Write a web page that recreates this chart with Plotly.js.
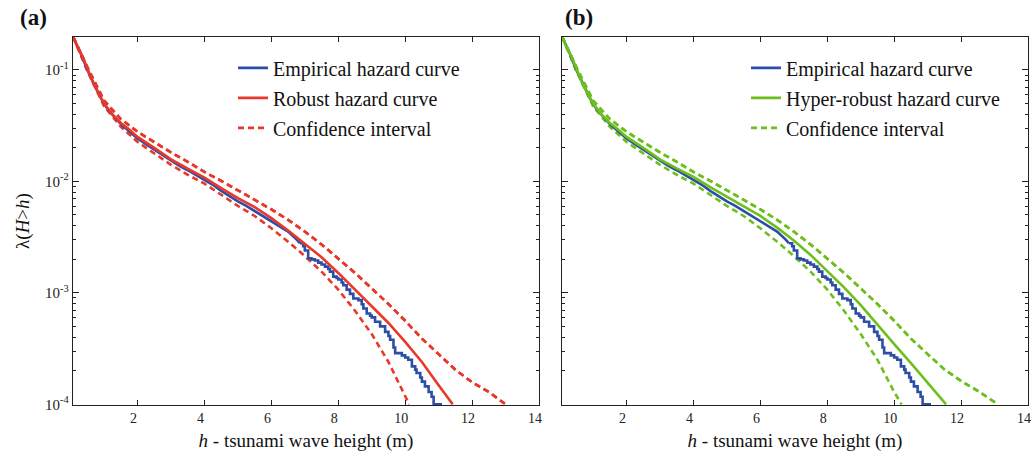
<!DOCTYPE html>
<html>
<head>
<meta charset="utf-8">
<script src="https://cdn.plot.ly/plotly-3.0.1.min.js"></script>
<style>html,body{margin:0;padding:0;background:#fff;}#chart{width:1033px;height:461px;}</style>
</head>
<body>
<div id="chart"></div>
<script>
// ---------- data ----------
// Empirical hazard curve (smooth upper part)
const empH = [0.08,0.3,0.5,0.7,0.9,1.1,1.3,1.5,1.75,2.0,2.25,2.5,2.75,3.0,3.25,3.5,3.75,4.0,4.25,4.5,4.75,5.0,5.25,5.5,5.75,6.0,6.25,6.5,6.75,6.85];
const empL = [0.197,0.141,0.100,0.0741,0.0562,0.0447,0.0380,0.0327,0.0282,0.0243,0.0216,0.0193,0.0172,0.0153,0.0138,0.0126,0.01135,0.01023,0.00933,0.00822,0.00733,0.00661,0.00603,0.00543,0.00490,0.00442,0.00398,0.00355,0.00302,0.00279];
// Empirical hazard curve (stepped tail)
const empTailH = [6.85,6.95,7.0,7.1,7.2,7.3,7.4,7.5,7.6,7.7,7.75,7.85,7.95,8.0,8.1,8.15,8.25,8.35,8.45,8.6,8.7,8.75,8.85,8.95,9.0,9.1,9.25,9.4,9.5,9.55,9.65,9.7,9.9,10.0,10.09,10.2,10.3,10.34,10.45,10.5,10.59,10.7,10.79,10.85,11.1];
const empTailL = [0.00279,0.00262,0.00240,0.00204,0.00200,0.00195,0.00187,0.00180,0.00172,0.00164,0.00155,0.00140,0.00136,0.00132,0.00124,0.00117,0.00107,0.00098,0.000891,0.000861,0.000790,0.000724,0.000653,0.000625,0.000603,0.000550,0.000501,0.000447,0.000410,0.000380,0.000324,0.000288,0.000275,0.000263,0.000251,0.000219,0.000205,0.000191,0.000174,0.000160,0.000145,0.000129,0.000117,0.0001,0.0001];

// Robust hazard curve (a)
const robH = [0.08,0.2,0.36,0.51,0.66,0.81,1.0,1.25,1.5,1.75,2.0,2.5,3.0,3.5,4.0,4.5,5.0,5.5,6.0,6.5,7.0,7.5,8.0,8.5,9.0,9.5,10.0,10.5,11.0,11.42];
const robL = [0.197,0.161,0.131,0.100,0.078,0.0635,0.0501,0.0398,0.0335,0.0292,0.0251,0.0200,0.0158,0.0130,0.01084,0.00871,0.00708,0.00589,0.00468,0.00363,0.00275,0.00209,0.00151,0.00107,0.000759,0.000537,0.000363,0.000240,0.000148,0.0001];
// Confidence interval (a)
const ciUpH = [0.08,0.5,1.0,1.5,2.0,2.5,3.0,3.5,4.0,4.5,5.0,5.5,6.0,6.5,7.0,7.5,8.0,8.5,9.0,9.5,10.0,10.5,11.0,11.5,12.0,12.5,13.0];
const ciUpL = [0.197,0.106,0.0531,0.0363,0.0279,0.0224,0.0182,0.0150,0.01216,0.01012,0.00832,0.00692,0.00562,0.00452,0.00355,0.00272,0.00204,0.00151,0.001096,0.000794,0.000562,0.000389,0.000282,0.000204,0.000158,0.000129,0.0001];
const ciLoH = [0.08,0.5,1.0,1.5,2.0,2.5,3.0,3.5,4.0,4.5,5.0,5.5,6.0,6.5,7.0,7.5,8.0,8.5,9.0,9.5,10.0,10.12];
const ciLoL = [0.197,0.0977,0.0473,0.0309,0.0226,0.0178,0.0141,0.01148,0.00955,0.00759,0.00603,0.00490,0.00380,0.00288,0.00214,0.00155,0.00107,0.000692,0.000427,0.000240,0.000120,0.0001];

// Hyper-robust hazard curve (b)
const hypH = [0.08,0.2,0.36,0.51,0.66,0.81,1.0,1.25,1.5,1.75,2.0,2.5,3.0,3.5,4.0,4.5,5.0,5.5,6.0,6.5,7.0,7.5,8.0,8.5,9.0,9.5,10.0,10.5,11.0,11.55];
const hypL = [0.197,0.161,0.131,0.100,0.078,0.0635,0.0501,0.0398,0.0335,0.0292,0.0251,0.0200,0.0158,0.0131,0.0110,0.00891,0.00733,0.00603,0.00490,0.00385,0.00295,0.00219,0.00158,0.00112,0.000776,0.000525,0.000347,0.000234,0.000155,0.0001];
// Confidence interval (b)
const ciUpH2 = [0.08,0.5,1.0,1.5,2.0,2.5,3.0,3.5,4.0,4.5,5.0,5.5,6.0,6.5,7.0,7.5,8.0,8.5,9.0,9.5,10.0,10.5,11.0,11.5,12.0,12.5,13.1];
const ciUpL2 = [0.197,0.106,0.0531,0.0363,0.0279,0.0224,0.0182,0.0150,0.01216,0.01012,0.00832,0.00692,0.00562,0.00452,0.00355,0.00272,0.00204,0.00151,0.001096,0.000794,0.000562,0.000389,0.000282,0.000206,0.000162,0.000132,0.0001];
const ciLoH2 = [0.08,0.5,1.0,1.5,2.0,2.5,3.0,3.5,4.0,4.5,5.0,5.5,6.0,6.5,7.0,7.5,8.0,8.5,9.0,9.5,10.0,10.22];
const ciLoL2 = [0.197,0.0977,0.0473,0.0309,0.0226,0.0178,0.0141,0.01148,0.00955,0.00759,0.00603,0.00490,0.00380,0.00288,0.00214,0.00155,0.00107,0.000692,0.000427,0.000251,0.000129,0.0001];

const xTicks = [2,4,6,8,10,12,14];
const yTickVals = [0.1,0.01,0.001,0.0001];
const yTickText = ['10<sup>-1</sup>','10<sup>-2</sup>','10<sup>-3</sup>','10<sup>-4</sup>'];
const yMinor = [0.0002,0.0003,0.0004,0.0005,0.0006,0.0007,0.0008,0.0009,0.002,0.003,0.004,0.005,0.006,0.007,0.008,0.009,0.02,0.03,0.04,0.05,0.06,0.07,0.08,0.09,0.2];

// ---------- styles ----------
const BLUE = '#2c4ea6', RED = '#e8382b', GREEN = '#6dbf1c';
const FONT = "'Liberation Serif', 'Times New Roman', serif";
const LW = 2.6;

function line(x, y, color, name, xa, ya, legend, dash, shape, show) {
  return {x: x, y: y, type: 'scatter', mode: 'lines', name: name,
    xaxis: xa, yaxis: ya, legend: legend, showlegend: show,
    legendgroup: legend + name,
    line: {color: color, width: LW, dash: dash || 'solid', shape: shape || 'linear'}};
}
const DASH = '6px,4px';
const traces = [
  // panel a
  line(ciUpH, ciUpL, RED, 'Confidence interval', 'x', 'y', 'legend', DASH, null, false),
  line(ciLoH, ciLoL, RED, 'Confidence interval', 'x', 'y', 'legend', DASH, null, false),
  line(empH, empL, BLUE, 'Empirical hazard curve', 'x', 'y', 'legend', null, null, true),
  line(empTailH, empTailL, BLUE, 'Empirical hazard curve', 'x', 'y', 'legend', null, 'hv', false),
  line(robH, robL, RED, 'Robust hazard curve', 'x', 'y', 'legend', null, null, true),
  line(ciUpH, ciUpL, RED, 'Confidence interval', 'x', 'y', 'legend', DASH, null, true),
  // panel b
  line(ciUpH2, ciUpL2, GREEN, 'Confidence interval', 'x2', 'y2', 'legend2', DASH, null, false),
  line(ciLoH2, ciLoL2, GREEN, 'Confidence interval', 'x2', 'y2', 'legend2', DASH, null, false),
  line(empH, empL, BLUE, 'Empirical hazard curve', 'x2', 'y2', 'legend2', null, null, true),
  line(empTailH, empTailL, BLUE, 'Empirical hazard curve', 'x2', 'y2', 'legend2', null, 'hv', false),
  line(hypH, hypL, GREEN, 'Hyper-robust hazard curve', 'x2', 'y2', 'legend2', null, null, true),
  line(ciUpH2, ciUpL2, GREEN, 'Confidence interval', 'x2', 'y2', 'legend2', DASH, null, true)
];

function xaxis(domain, anchor) {
  return {domain: domain, anchor: anchor, range: [0.07, 14], tickvals: xTicks,
    ticks: 'inside', ticklen: 5, tickwidth: 1, tickcolor: '#222', showline: true,
    linecolor: '#222', linewidth: 1.3, mirror: 'ticks', showgrid: false, zeroline: false,
    ticklabeloverflow: 'allow', ticklabelshift: -4,
    tickfont: {family: FONT, size: 14, color: '#222'},
    title: {text: '<i>h</i> - tsunami wave height (m)', font: {family: FONT, size: 19, color: '#111'}, standoff: 8}};
}
function yaxis(domain, anchor, labels) {
  const ax = {domain: domain, anchor: anchor, type: 'log', range: [-4.006, -0.704],
    tickvals: yTickVals, ticktext: yTickText, showticklabels: labels,
    ticks: 'inside', ticklen: 6, tickwidth: 1, tickcolor: '#222', showline: true,
    linecolor: '#222', linewidth: 1.3, mirror: 'ticks', showgrid: false, zeroline: false,
    tickfont: {family: FONT, size: 15, color: '#222'},
    minor: {tickvals: yMinor, ticks: 'inside', ticklen: 3, tickwidth: 1, tickcolor: '#222', showgrid: false}};
  if (labels) ax.title = {text: 'λ(<i>H</i>&gt;<i>h</i>)', font: {family: FONT, size: 19, color: '#111'}, standoff: 10};
  return ax;
}
const yDom = [56/461, 424/461];
function legend(x) {
  return {x: x, xref: 'paper', xanchor: 'left', y: 0.895, yref: 'paper', yanchor: 'top',
    bgcolor: 'rgba(0,0,0,0)', borderwidth: 0, tracegroupgap: 1,
    font: {family: FONT, size: 20, color: '#111'}};
}
const layout = {
  width: 1033, height: 461, margin: {l: 0, r: 0, t: 0, b: 0},
  paper_bgcolor: '#fff', plot_bgcolor: '#fff',
  font: {family: FONT},
  xaxis: xaxis([73/1033, 539/1033], 'y'),
  yaxis: yaxis(yDom, 'x', true),
  xaxis2: xaxis([562/1033, 1028/1033], 'y2'),
  yaxis2: yaxis(yDom, 'x2', false),
  legend: legend(233/1033),
  legend2: legend(746/1033),
  annotations: [
    {text: '<b>(a)</b>', xref: 'paper', yref: 'paper', x: 18/1033, y: (461-18)/461, xanchor: 'left', yanchor: 'middle', showarrow: false, font: {family: FONT, size: 23, color: '#111'}},
    {text: '<b>(b)</b>', xref: 'paper', yref: 'paper', x: 563/1033, y: (461-18)/461, xanchor: 'left', yanchor: 'middle', showarrow: false, font: {family: FONT, size: 23, color: '#111'}}
  ]
};
Plotly.newPlot('chart', traces, layout, {staticPlot: true, displayModeBar: false});
</script>
</body>
</html>
